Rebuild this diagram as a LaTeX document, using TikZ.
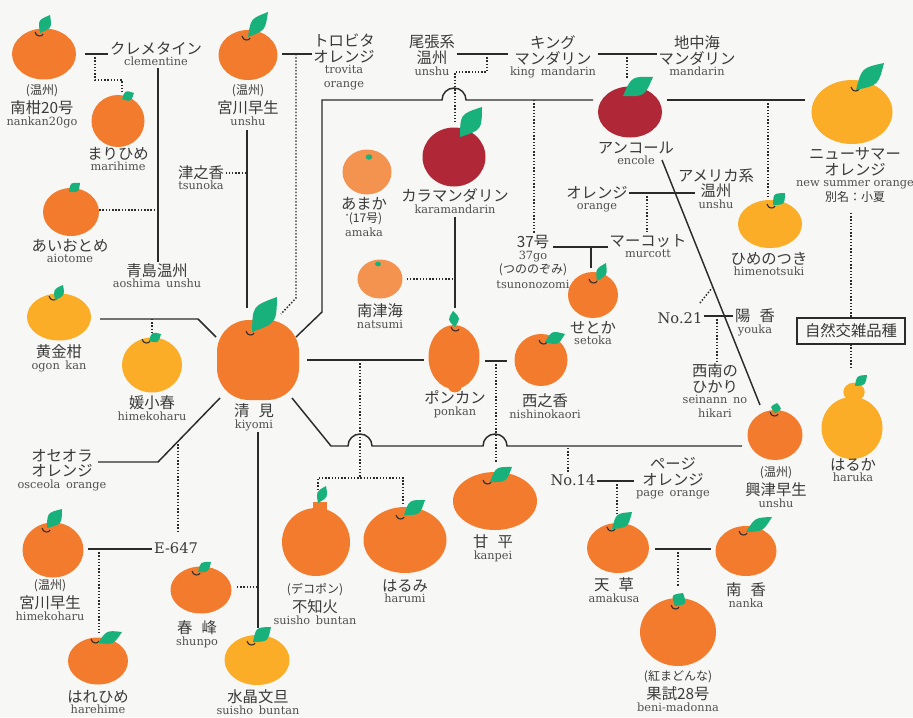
\documentclass[tikz,border=0pt]{standalone}
\usepackage{fontspec}
\newfontfamily\cjk{Noto Sans CJK JP}
\newfontfamily\serifen{DejaVu Serif}
\usetikzlibrary{shapes.geometric,calc}

\definecolor{paper}{HTML}{F7F7F5}
\definecolor{mikan}{HTML}{F37B2E}
\definecolor{kogane}{HTML}{FBAD27}
\definecolor{akane}{HTML}{B02838}
\definecolor{usuki}{HTML}{F4924F}
\definecolor{leafgreen}{HTML}{18B17B}
\definecolor{ink}{HTML}{2B2B2B}
\definecolor{jptext}{HTML}{3A3A3A}
\definecolor{entext}{HTML}{505050}

\newcommand{\jpn}{\cjk\fontsize{11.5}{0}\selectfont\color{jptext}\rule[-0.8pt]{0pt}{10.3pt}}
\newcommand{\jps}{\cjk\fontsize{9}{0}\selectfont\color{jptext}\rule[-3pt]{0pt}{10.5pt}}
\newcommand{\lat}{\serifen\fontsize{8.5}{0}\selectfont\color{entext}\rule[-2.2pt]{0pt}{8.5pt}}
\newcommand{\codefont}{\serifen\fontsize{11}{0}\selectfont\color{jptext}}

\newcommand{\leaf}[3][6pt]{%
  \fill[leafgreen] (#2) .. controls ($(#2)!.5!(#3)!#1!90:(#3)$) .. (#3)
    .. controls ($(#2)!.5!(#3)!#1!-90:(#3)$) .. (#2);}
\newcommand{\stalk}[1]{%
  \draw[ink,line width=.8pt] ($(#1)+(-4,-2)$) .. controls ($(#1)+(-3,3)$) and ($(#1)+(3,3)$) .. ($(#1)+(4,0)$);}

\begin{document}
\begin{tikzpicture}[x=0.75pt,y=-0.75pt,
    fruit/.style 2 args={ellipse,minimum width=#1*0.75pt,minimum height=#2*0.75pt,inner sep=0pt},
    lbl/.style={align=center,inner sep=1pt,font={\fontsize{8.5}{0}\selectfont\lineskiplimit=0pt\lineskip=1.5pt}},
    solidlink/.style={draw=ink,line width=1.1pt},
    dotlink/.style={draw=ink,line width=1.1pt,dash pattern=on 1.1pt off 1.3pt}]
  \useasboundingbox (0,0) rectangle (913,717);
  \fill[paper] (0,0) rectangle (913,717);

  % fruits
  \node[fruit={64}{51},fill=mikan] (nankan) at (44,54) {};
  \node[fruit={53}{52},fill=mikan] (marihime) at (118,121) {};
  \node[fruit={56}{48},fill=mikan] (aiotome) at (71,212) {};
  \node[fruit={59}{50},fill=mikan] (miyagawa) at (248,55) {};
  \node[fruit={49}{45},fill=usuki] (amaka) at (367,172) {};
  \node[fruit={63}{59},fill=akane] (karaman) at (454,157) {};
  \node[fruit={64}{51},fill=akane] (encore) at (630,112) {};
  \node[fruit={81}{64},fill=kogane] (newsummer) at (852,112) {};
  \node[fruit={64}{48},fill=kogane] (himenotsuki) at (770,224) {};
  \node[fruit={45}{39},fill=usuki] (natsumi) at (380,279) {};
  \node[fruit={50}{46},fill=mikan] (setoka) at (593,295) {};
  \node[fruit={64}{47},fill=kogane] (ogon) at (59,317) {};
  \node[fruit={60}{55},fill=kogane] (himekoharu) at (152,365) {};
  \node[rectangle,rounded corners=24pt,minimum width=61.5pt,minimum height=60pt,inner sep=0pt,fill=mikan] (kiyomi) at (258,360) {};
  \node[fruit={51}{64},fill=mikan] (ponkan) at (454,357) {};
  \node[fruit={53}{52},fill=mikan] (nishino) at (541,360) {};
  \node[fruit={55}{50},fill=mikan] (okitsu) at (775,435) {};
  \fill[kogane] (854,392) ellipse [x radius=8pt,y radius=7pt];
  \node[fruit={61}{62},fill=kogane] (haruka) at (852,428) {};
  \node[fruit={84}{58},fill=mikan] (kanpei) at (495,501) {};
  \fill[mikan] (313,512) rectangle (327,502);
  \node[fruit={68}{68},fill=mikan] (shiranui) at (316,542) {};
  \node[fruit={83}{66},fill=mikan] (harumi) at (405,540) {};
  \node[fruit={62}{50},fill=mikan] (amakusa) at (618,548) {};
  \node[fruit={61}{50},fill=mikan] (nanka) at (746,551) {};
  \node[fruit={76}{68},fill=mikan] (benimadonna) at (678,632) {};
  \node[fruit={61}{55},fill=mikan] (miyagawab) at (53,550) {};
  \node[fruit={60}{47},fill=mikan] (harehime) at (98,661) {};
  \node[fruit={61}{47},fill=mikan] (shunpo) at (201,590) {};
  \node[fruit={65}{50},fill=kogane] (suisho) at (257,660) {};
  \fill[mikan] (455,387) ellipse [x radius=5pt,y radius=4pt];
  \fill[leafgreen] (369,157) ellipse [x radius=2.5pt,y radius=2pt];
  \fill[leafgreen] (378,264) ellipse [x radius=2.2pt,y radius=1.8pt];

  % leaves
  \stalk{39,34} \leaf{40,33}{50,15}
  \leaf[5pt]{122,99}{134,93}
  \leaf[5pt]{69,192}{80,183}
  \stalk{246,38} \leaf[7pt]{248,37}{268,12}
  \leaf[10pt]{460,137}{482,107}
  \leaf[9pt]{623,96}{653,77}
  \stalk{855,89} \leaf[9pt]{856,90}{884,63}
  \stalk{771,206} \leaf{773,205}{785,193}
  \stalk{593,281} \leaf[5pt]{597,281}{606,263}
  \stalk{53,298} \leaf[5pt]{55,300}{63,285}
  \stalk{146,341} \leaf[5pt]{149,341}{161,334}
  \stalk{250,333} \leaf[11pt]{252,332}{277,297}
  \stalk{455,329} \leaf[5pt]{455,327}{453,311}
  \stalk{543,342} \leaf{545,342}{565,334}
  \stalk{774,414} \leaf[5pt]{775,413}{777,403}
  \leaf[5pt]{855,386}{867,375}
  \stalk{487,482} \leaf[7pt]{490,482}{512,467}
  \leaf[5pt]{318,503}{326,486}
  \stalk{400,517} \leaf[7pt]{404,515}{425,500}
  \stalk{611,529} \leaf[7pt]{612,529}{632,512}
  \stalk{743,533} \leaf{746,532}{772,517}
  \stalk{675,607} \leaf[7pt]{675,606}{683,593}
  \stalk{46,530} \leaf[7pt]{47,528}{62,509}
  \stalk{95,641} \leaf{98,643}{122,632}
  \stalk{196,573} \leaf[5pt]{198,572}{211,562}
  \stalk{251,643} \leaf[7pt]{253,642}{271,627}

  % names under the fruits
  \node[lbl,anchor=north] (nankanlbl) at (42,83) {\jps(温州)\\\jpn 南柑20号\\\lat nankan20go};
  \node[lbl,anchor=north] (marihimelbl) at (118,145) {\jpn まりひめ\\\lat marihime};
  \node[lbl,anchor=north] (aiotomelbl) at (70,237) {\jpn あいおとめ\\\lat aiotome};
  \node[lbl,anchor=north] (miyagawalbl) at (248,83) {\jps(温州)\\\jpn 宮川早生\\\lat unshu};
  \node[lbl,anchor=north] (amakalbl) at (364,195) {\jpn あまか\\\jps\raisebox{2pt}{\tiny*}(17号)\\\lat amaka};
  \node[lbl,anchor=north] (karamanlbl) at (455,187) {\jpn カラマンダリン\\\lat karamandarin};
  \node[lbl,anchor=north] (encorelbl) at (636,139) {\jpn アンコール\\\lat encole};
  \node[lbl,anchor=north] (newsummerlbl) at (855,145) {\jpn ニューサマー\\\jpn オレンジ\\\lat new summer orange\\\jps 別名：小夏};
  \node[lbl,anchor=north] (himenotsukilbl) at (769,250) {\jpn ひめのつき\\\lat himenotsuki};
  \node[lbl,anchor=north] (natsumilbl) at (380,302) {\jpn 南津海\\\lat natsumi};
  \node[lbl,anchor=north] (setokalbl) at (593,319) {\jpn せとか\\\lat setoka};
  \node[lbl,anchor=north] (ogonlbl) at (59,343) {\jpn 黄金柑\\\lat ogon\hspace{.5em}kan};
  \node[lbl,anchor=north] (himekoharulbl) at (152,394) {\jpn 媛小春\\\lat himekoharu};
  \node[lbl,anchor=north] (kiyomilbl) at (254,402) {\jpn 清\hspace{.6em}見\\\lat kiyomi};
  \node[lbl,anchor=north] (ponkanlbl) at (455,389) {\jpn ポンカン\\\lat ponkan};
  \node[lbl,anchor=north] (nishinolbl) at (545,392) {\jpn 西之香\\\lat nishinokaori};
  \node[lbl,anchor=north] (okitsulbl) at (776,465) {\jps(温州)\\\jpn 興津早生\\\lat unshu};
  \node[lbl,anchor=north] (harukalbl) at (853,456) {\jpn はるか\\\lat haruka};
  \node[lbl,anchor=north] (kanpeilbl) at (493,533) {\jpn 甘\hspace{.6em}平\\\lat kanpei};
  \node[lbl,anchor=north] (shiranuilbl) at (315,582) {\jps(デコポン)\\\jpn 不知火\\\lat suisho\hspace{.5em}buntan};
  \node[lbl,anchor=north] (harumilbl) at (405,577) {\jpn はるみ\\\lat harumi};
  \node[lbl,anchor=north] (amakusalbl) at (614,576) {\jpn 天\hspace{.6em}草\\\lat amakusa};
  \node[lbl,anchor=north] (nankalbl) at (746,581) {\jpn 南\hspace{.6em}香\\\lat nanka};
  \node[lbl,anchor=north] (benimadonnalbl) at (678,669) {\jps(紅まどんな)\\\jpn 果試28号\\\lat beni-madonna};
  \node[lbl,anchor=north] (miyagawablbl) at (50,578) {\jps(温州)\\\jpn 宮川早生\\\lat himekoharu};
  \node[lbl,anchor=north] (harehimelbl) at (98,688) {\jpn はれひめ\\\lat harehime};
  \node[lbl,anchor=north] (shunpolbl) at (197,619) {\jpn 春\hspace{.6em}峰\\\lat shunpo};
  \node[lbl,anchor=north] (suisholbl) at (258,688) {\jpn 水晶文旦\\\lat suisho\hspace{.5em}buntan};

  % parents without a picture
  \node[lbl] (clementine) at (156,55) {\jpn クレメタイン\\\lat clementine};
  \node[lbl] (trovita) at (344,62) {\jpn トロビタ\\\jpn オレンジ\\\lat trovita\\\lat orange};
  \node[lbl] (owari) at (432,57) {\jpn 尾張系\\\jpn 温州\\\lat unshu};
  \node[lbl] (king) at (553,57) {\jpn キング\\\jpn マンダリン\\\lat king\hspace{.5em}mandarin};
  \node[lbl] (mediterr) at (697,57) {\jpn 地中海\\\jpn マンダリン\\\lat mandarin};
  \node[lbl] (tsunoka) at (201,179) {\jpn 津之香\\\lat tsunoka};
  \node[lbl] (aoshima) at (157,277) {\jpn 青島温州\\\lat aoshima\hspace{.5em}unshu};
  \node[lbl] (orange) at (597,199) {\jpn オレンジ\\\lat orange};
  \node[lbl] (america) at (716,190) {\jpn アメリカ系\\\jpn 温州\\\lat unshu};
  \node[lbl] (no37) at (533,263) {\jpn 37号\\\lat 37go\\\jps(つののぞみ)\\\lat tsunonozomi};
  \node[lbl] (murcott) at (648,247) {\jpn マーコット\\\lat murcott};
  \node[lbl] (no21) at (680,318) {\codefont No.21};
  \node[lbl] (youka) at (755,323) {\jpn 陽\hspace{.6em}香\\\lat youka};
  \node[lbl] (seinan) at (715,392) {\jpn 西南の\\\jpn ひかり\\\lat seinann\hspace{.5em}no\\\lat hikari};
  \node[lbl] (osceola) at (62,470) {\jpn オセオラ\\\jpn オレンジ\\\lat osceola\hspace{.5em}orange};
  \node[lbl] (e647) at (176,548) {\codefont E-647};
  \node[lbl] (no14) at (573,480) {\codefont No.14};
  \node[lbl] (page) at (673,478) {\jpn ページ\\\jpn オレンジ\\\lat page\hspace{.5em}orange};

  % junctions and line ends
  \coordinate (nk-e) at (85,54);
  \coordinate (nk-j) at (95,54);
  \coordinate (mh-top) at (122,92);
  \coordinate (cl-j) at (158,68);
  \coordinate (ai-j) at (158,210);
  \coordinate (my-e) at (282,54);
  \coordinate (tr-j) at (296,54);
  \coordinate (tr-end) at (281,314);
  \coordinate (my-bot) at (247,130);
  \coordinate (ki-top) at (247,308);
  \coordinate (ts-j) at (247,173);
  \coordinate (ki-ne) at (296,337);
  \coordinate (en-w) at (593,100);
  \coordinate (ow-j) at (487,54);
  \coordinate (km-top) at (455,122);
  \coordinate (kg-j) at (627,54);
  \coordinate (en-top) at (627,78);
  \coordinate (en-e) at (667,100);
  \coordinate (ns-w) at (805,100);
  \coordinate (ns-j) at (768,100);
  \coordinate (hm-top) at (768,198);
  \coordinate (en-j) at (534,100);
  \coordinate (nz-bot) at (851,213);
  \coordinate (hr-top) at (851,367);
  \coordinate (km-bot) at (455,217);
  \coordinate (pk-top) at (455,308);
  \coordinate (n37-e) at (553,247);
  \coordinate (st-j) at (591,247);
  \coordinate (st-top) at (591,268);
  \coordinate (or-j) at (647,193);
  \coordinate (am-w) at (695,193);
  \coordinate (en-lo) at (662,160);
  \coordinate (ok-top) at (760,405);
  \coordinate (n21-j) at (717,316);
  \coordinate (n21-a) at (700,303);
  \coordinate (n21-b) at (712,288);
  \coordinate (ki-e) at (307,360);
  \coordinate (pk-w) at (424,360);
  \coordinate (sh-j) at (360,360);
  \coordinate (sh-m) at (360,478);
  \coordinate (sh-top) at (318,490);
  \coordinate (hm2-top) at (403,503);
  \coordinate (ki-se) at (292,398);
  \coordinate (ok-w) at (742,446);
  \coordinate (pk-e) at (485,361);
  \coordinate (ni-w) at (507,361);
  \coordinate (pk-j) at (496,361);
  \coordinate (kp-top) at (496,463);
  \coordinate (n14-j) at (568,448);
  \coordinate (ak-j) at (617,481);
  \coordinate (ak-top) at (617,515);
  \coordinate (ak-e) at (655,549);
  \coordinate (nn-w) at (711,549);
  \coordinate (bm-j) at (678,549);
  \coordinate (bm-top) at (678,587);
  \coordinate (og-e) at (100,319);
  \coordinate (ki-w) at (216,337);
  \coordinate (og-j) at (152,319);
  \coordinate (hk-top) at (152,335);
  \coordinate (os-e) at (98,462);
  \coordinate (ki-sw) at (220,398);
  \coordinate (os-j) at (178,441);
  \coordinate (e6-top) at (178,533);
  \coordinate (mb-e) at (88,549);
  \coordinate (mb-j) at (99,549);
  \coordinate (hh-top) at (99,633);
  \coordinate (ki-bot) at (258,432);
  \coordinate (su-top) at (258,628);
  \coordinate (sp-e) at (237,587);
  \coordinate (sp-j) at (258,587);

  % crossings
  \draw[solidlink] (nk-e) -- (clementine.west |- nk-e);
  \draw[dotlink] (nk-j) -- ++(0,26) -| (mh-top);
  \draw[solidlink] (cl-j) -- (cl-j |- aoshima.north);
  \draw[dotlink] (aiotome.east |- ai-j) -- (ai-j);
  \draw[solidlink] (my-e) -- (trovita.west |- my-e);
  \draw[dotlink] (tr-j) -- ++(0,244) -- (tr-end);
  \draw[solidlink] (my-bot) -- (ki-top);
  \draw[dotlink] (tsunoka.east |- ts-j) -- (ts-j);
  \draw[solidlink] (ki-ne) -- (322,312) -- (322,100) -- (442,100)
    arc[start angle=180,end angle=0,radius=9pt] -- (en-w);
  \draw[solidlink] (owari.east |- ow-j) -- (king.west |- ow-j);
  \draw[dotlink] (ow-j) -- ++(0,18) -| (km-top);
  \draw[solidlink] (king.east |- kg-j) -- (mediterr.west |- kg-j);
  \draw[dotlink] (kg-j) -- (en-top);
  \draw[solidlink] (en-e) -- (ns-w);
  \draw[dotlink] (ns-j) -- (hm-top);
  \draw[dotlink] (en-j) -- (en-j |- no37.north);
  \draw[dotlink] (nz-bot) -- (hr-top);
  \draw[solidlink] (km-bot) -- (pk-top);
  \draw[dotlink] (natsumi.east) ++(3pt,0) -- (pk-top |- natsumi.east);
  \draw[solidlink] (n37-e) -- (murcott.west |- n37-e);
  \draw[solidlink] (st-j) -- (st-top);
  \draw[solidlink] (orange.east |- or-j) -- (am-w);
  \draw[dotlink] (or-j) -- (or-j |- murcott.north);
  \draw[solidlink] (en-lo) -- (ok-top);
  \draw[solidlink] (no21.east |- n21-j) -- (youka.west |- n21-j);
  \draw[dotlink] (n21-j) -- (n21-j |- seinan.north);
  \draw[dotlink] (n21-a) -- (n21-b);
  \draw[solidlink] (ki-e) -- (pk-w);
  \draw[dotlink] (sh-j) -- (sh-m);
  \draw[dotlink] (sh-top) |- (sh-m) -| (hm2-top);
  \draw[solidlink] (ki-se) -- (331,446) -- (348,446)
    arc[start angle=180,end angle=0,radius=9pt] -- (483,446)
    arc[start angle=180,end angle=0,radius=9pt] -- (ok-w);
  \draw[solidlink] (pk-e) -- (ni-w);
  \draw[dotlink] (pk-j) -- (kp-top);
  \draw[dotlink] (n14-j) -- (n14-j |- no14.north);
  \draw[solidlink] (no14.east |- ak-j) -- (page.west |- ak-j);
  \draw[dotlink] (ak-j) -- (ak-top);
  \draw[solidlink] (ak-e) -- (nn-w);
  \draw[dotlink] (bm-j) -- (bm-top);
  \draw[solidlink] (og-e) -- (198,319) -- (ki-w);
  \draw[dotlink] (og-j) -- (hk-top);
  \draw[solidlink] (os-e) -- (158,462) -- (ki-sw);
  \draw[dotlink] (os-j) -- (e6-top);
  \draw[solidlink] (mb-e) -- (e647.west |- mb-e);
  \draw[dotlink] (mb-j) -- (hh-top);
  \draw[solidlink] (ki-bot) -- (su-top);
  \draw[dotlink] (sp-e) -- (sp-j);

  \node[draw=ink,line width=1.3pt,fill=paper,minimum width=81pt,minimum height=19pt,inner sep=2pt]
    (natural) at (851,331) {\jpn 自然交雑品種};
\end{tikzpicture}
\end{document}
